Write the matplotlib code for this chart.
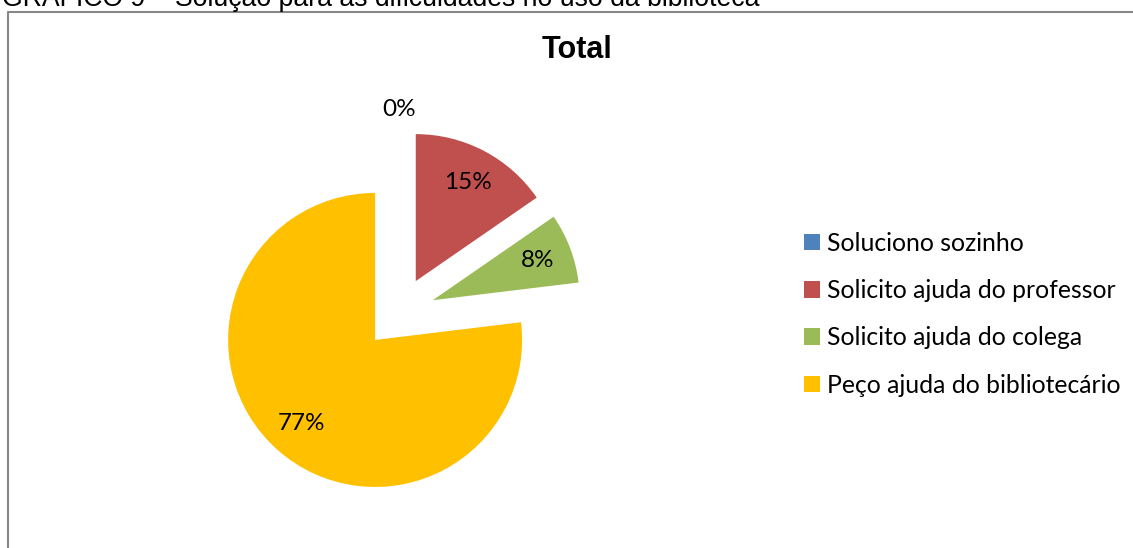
import matplotlib
matplotlib.use("Agg")
import matplotlib.pyplot as plt
from matplotlib.lines import Line2D
from matplotlib.patches import Patch
import numpy as np

# Respostas: "Solução para as dificuldades no uso da biblioteca"
categories = [
    "Soluciono sozinho",
    "Solicito ajuda do professor",
    "Solicito ajuda do colega",
    "Peço ajuda do bibliotecário",
]
counts = [0, 2, 1, 10]
colors = ["#4F81BD", "#C0504D", "#9BBB59", "#FFC000"]
title = "Total"
caption = "GRÁFICO 9 – Solução para as dificuldades no uso da biblioteca"

W, H = 1133, 548
fig = plt.figure(figsize=(W / 100, H / 100), dpi=100)
ax = fig.add_axes([0, 0, 1, 1])

label_font = "Lato"
center = (399, H - 313)
radius = 147
# every slice is pulled out by the same distance (data units = pixels)
explode = [0.245 * radius] * len(counts)

wedges, texts, autotexts = ax.pie(
    counts,
    colors=colors,
    startangle=90,
    counterclock=False,
    explode=explode,
    center=center,
    radius=radius,
    autopct=lambda p: f"{p:.0f}%",
    pctdistance=0.76,
    textprops=dict(fontsize=17.5, family=label_font, color="black"),
    frame=True,
)
ax.set_xlim(0, W)
ax.set_ylim(0, H)
ax.set_aspect("equal")
ax.axis("off")

# zero-valued slices get their label placed outside the pie
for w, t, c in zip(wedges, autotexts, counts):
    if c == 0:
        ang = np.deg2rad((w.theta1 + w.theta2) / 2)
        cx, cy = w.center
        t.set_position((cx + 1.14 * radius * np.cos(ang),
                        cy + 1.14 * radius * np.sin(ang)))

ax.text(577, H - 50, title, ha="center", va="center",
        fontsize=22, fontweight="bold", family="Liberation Sans")

handles = [Patch(facecolor=col, edgecolor="none") for col in colors]
leg = ax.legend(handles, categories, loc="upper left",
                bbox_to_anchor=(794 / W, (H - 222) / H),
                frameon=False, prop=dict(family=label_font, size=17.8),
                handlelength=0.65, handleheight=0.65, handletextpad=0.3,
                labelspacing=0.98, borderaxespad=0)

# page frame and the caption above it
fig.add_artist(Line2D([8 / W, 8 / W, 1.0], [0.0, (H - 12) / H, (H - 12) / H],
                      color="#878787", lw=1.5, transform=fig.transFigure))
fig.text(2 / W, (H - 6) / H, caption, ha="left", va="baseline",
         fontsize=19.2, family="Liberation Sans", color="black")

fig.savefig("out.png", dpi=100)
